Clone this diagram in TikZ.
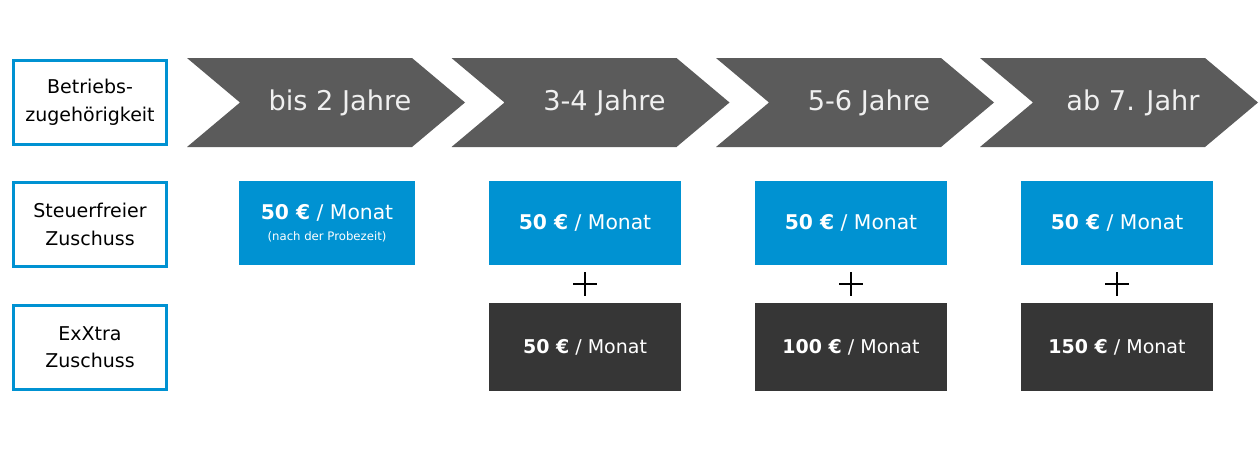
\documentclass[tikz,border=0pt]{standalone}
\usepackage{fontspec}
\setmainfont{DejaVu Sans}
\usetikzlibrary{positioning,calc}
\definecolor{chevgray}{HTML}{5B5B5B}
\definecolor{boxblue}{HTML}{0092D2}
\definecolor{boxdark}{HTML}{363636}
\tikzset{
  rowlabel/.style={draw=boxblue, line width=3pt, minimum width=153pt, minimum height=84pt,
    inner sep=0pt, align=center, font=\fontsize{19}{27.5}\selectfont},
  blueamount/.style={fill=boxblue, text=white, minimum width=192pt, minimum height=84pt,
    inner sep=0pt, align=center, font=\fontsize{20.3}{22}\selectfont},
  darkamount/.style={fill=boxdark, text=white, minimum width=192pt, minimum height=88pt,
    inner sep=0pt, align=center, font=\fontsize{19}{22}\selectfont},
  periodtext/.style={text=white!94!black, font=\fontsize{27.2}{30}\selectfont},
  plussign/.style={line width=1.4pt, black}
}
\begin{document}
\begin{tikzpicture}[x=1pt,y=-1pt]
\useasboundingbox (0,0) rectangle (1260,450);
\foreach \s/\name/\txt in {187/p1/bis 2 Jahre,451.5/p2/3-4 Jahre,716/p3/5-6 Jahre,980/p4/ab 7. Jahr}{
  \fill[chevgray] (\s,58) -- ++(225,0) -- ++(53,44.5) -- ++(-53,44.5) -- ++(-225,0) -- ++(53,-44.5) -- cycle;
  \node[periodtext] (\name) at (\s+153,102.5) {\txt};
}
\node[rowlabel] (zugehoerigkeit) at (90,102.5) {Betriebs-\\zugehörigkeit};
\node[rowlabel] (steuerfrei) at (90,224.5) {Steuerfreier\\Zuschuss};
\node[rowlabel] (exxtra) at (90,347) {ExXtra\\Zuschuss};
\node[blueamount, minimum width=176pt] (sf1) at (327,223) {\textbf{50 €} / Monat\\[-1pt]{\fontsize{11.7}{13}\selectfont (nach der Probezeit)}};
\node[blueamount] (sf2) at (585,223) {\textbf{50 €} / Monat};
\node[blueamount] (sf3) at (851,223) {\textbf{50 €} / Monat};
\node[blueamount] (sf4) at (1117,223) {\textbf{50 €} / Monat};
\node[darkamount] (ex2) at (585,347) {\textbf{50 €} / Monat};
\node[darkamount] (ex3) at (851,347) {\textbf{100 €} / Monat};
\node[darkamount] (ex4) at (1117,347) {\textbf{150 €} / Monat};
\foreach \n in {2,3,4}{
  \coordinate (plus\n) at ($(sf\n.south)!0.5!(ex\n.north)$);
  \draw[plussign] (plus\n) ++(-12,0) -- ++(24,0) (plus\n) ++(0,-12) -- ++(0,24);
}
\end{tikzpicture}
\end{document}
